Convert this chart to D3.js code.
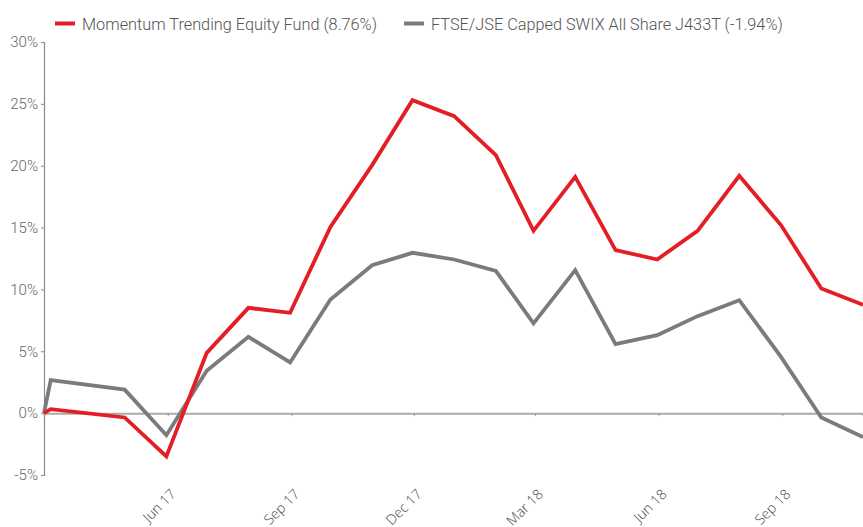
<!DOCTYPE html>
<html>
<head>
<meta charset="utf-8">
<script src="https://cdnjs.cloudflare.com/ajax/libs/d3/7.8.5/d3.min.js"></script>
<style>
  body { margin: 0; background: #fff; }
  svg { display: block; }
</style>
</head>
<body>
<div id="chart"></div>
<script>
// month-end cumulative returns (%)
var dates = ["2017-03-01", "2017-03-06", "2017-04-30", "2017-05-31", "2017-06-30", "2017-07-31",
             "2017-08-31", "2017-09-30", "2017-10-31", "2017-11-30", "2017-12-31", "2018-01-31",
             "2018-02-28", "2018-03-31", "2018-04-30", "2018-05-31", "2018-06-30", "2018-07-31",
             "2018-08-31", "2018-09-30", "2018-10-31"];
var fundValues = [0, 0.32, -0.35, -3.5, 4.87, 8.51, 8.11, 15.06, 20.05, 25.3, 24.0, 20.86,
                  14.74, 19.1, 13.18, 12.42, 14.74, 19.18, 15.2, 10.08, 8.76];
var indexValues = [0, 2.67, 1.9, -1.78, 3.42, 6.17, 4.1, 9.19, 11.96, 12.96, 12.42, 11.5,
                   7.25, 11.56, 5.58, 6.3, 7.84, 9.13, 4.55, -0.35, -1.94];
var seriesNames = ["Momentum Trending Equity Fund (8.76%)", "FTSE/JSE Capped SWIX All Share J433T (-1.94%)"];
var seriesColors = ["#e31e24", "#7b7b7d"];
var yTicks = [-5, 0, 5, 10, 15, 20, 25, 30];
var xTicks = ["2017-06-01", "2017-09-01", "2017-12-01", "2018-03-01", "2018-06-01", "2018-09-01"];

var svgw = 863, svgh = 527;
var margin = {top: 42, right: 0, bottom: 52, left: 44};

var parse = d3.timeParse("%Y-%m-%d");
var xdates = dates.map(parse);

var svg = d3.select("#chart").append("svg")
    .attr("width", svgw)
    .attr("height", svgh);

var x = d3.scaleTime()
    .domain(d3.extent(xdates))
    .range([margin.left, svgw - margin.right]);

var y = d3.scaleLinear()
    .domain([-5, 30])
    .range([svgh - margin.bottom, margin.top]);

// y axis
var yAxis = svg.append("g")
    .attr("class", "y axis")
    .attr("transform", "translate(" + margin.left + ",0)")
    .call(d3.axisLeft(y).tickValues(yTicks).tickSize(3).tickPadding(3)
        .tickFormat(function(d){ return d + "%"; }));
yAxis.select(".domain").attr("stroke", "#8a8a8a").attr("stroke-width", 1.2);
yAxis.selectAll(".tick line").attr("stroke", "#8a8a8a");
yAxis.selectAll("text")
    .attr("fill", "#666")
    .style("font-family", "Roboto, 'DejaVu Sans', sans-serif")
    .style("font-weight", "300")
    .style("font-size", "15px");

// zero line with month ticks
var xAxis = svg.append("g")
    .attr("class", "x axis")
    .attr("transform", "translate(0," + y(0) + ")")
    .call(d3.axisBottom(x).tickValues(xTicks.map(parse)).tickSize(3).tickFormat(""));
xAxis.select(".domain").attr("stroke", "#aaaaaa").attr("stroke-width", 2);
xAxis.selectAll(".tick line").attr("stroke", "#999");

// rotated month labels
svg.append("g").selectAll("text")
    .data(xTicks.map(parse))
    .enter().append("text")
    .attr("transform", function(d){ return "translate(" + (x(d) + 9) + "," + 495 + ") rotate(-45)"; })
    .attr("text-anchor", "end")
    .attr("fill", "#444")
    .style("font-family", "'Open Sans', sans-serif")
    .style("font-weight", "300")
    .style("font-size", "14px")
    .text(d3.timeFormat("%b %y"));

// lines
var line = d3.line()
    .x(function(d, i){ return x(xdates[i]); })
    .y(function(d){ return y(d); });

[indexValues, fundValues].forEach(function(vals, k){
    svg.append("path")
        .datum(vals)
        .attr("fill", "none")
        .attr("stroke", seriesColors[1 - k])
        .attr("stroke-width", 3.8)
        .attr("stroke-linejoin", "miter")
        .attr("d", line);
});

// legend
var legendX = [55, 404];
var legend = svg.append("g").attr("class", "legend");
seriesNames.forEach(function(name, i){
    legend.append("line")
        .attr("x1", legendX[i]).attr("x2", legendX[i] + 20)
        .attr("y1", 23.5).attr("y2", 23.5)
        .attr("stroke", seriesColors[i])
        .attr("stroke-width", 4);
    legend.append("text")
        .attr("x", legendX[i] + 27)
        .attr("y", 30)
        .attr("fill", "#555")
        .style("font-family", "Roboto, 'DejaVu Sans', sans-serif")
        .style("font-weight", "300")
        .style("font-size", "16.3px")
        .text(name);
});
</script>
</body>
</html>
